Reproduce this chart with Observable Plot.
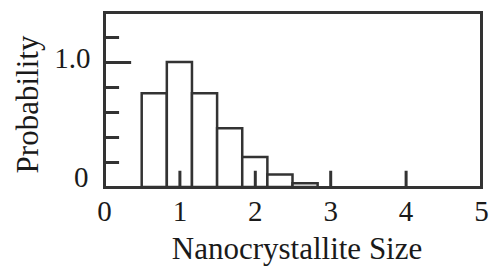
<!DOCTYPE html>
<html>
<head>
<meta charset="utf-8">
<script src="https://cdn.jsdelivr.net/npm/d3@7"></script>
<script src="https://cdn.jsdelivr.net/npm/@observablehq/plot@0.6"></script>
<style>
  html, body { margin: 0; padding: 0; background: #fff; }
  svg { display: block; }
</style>
</head>
<body>
<div id="chart"></div>
<script>
// Histogram bins (nanocrystallite size) and probabilities
const binStart = [0.5, 0.8333, 1.1667, 1.5, 1.8333, 2.1667, 2.5];
const binEnd   = [0.8333, 1.1667, 1.5, 1.8333, 2.1667, 2.5, 2.8333];
const prob     = [0.75, 1.0, 0.75, 0.47, 0.24, 0.10, 0.03];

const xTicks = [0, 1, 2, 3, 4, 5];
const xInnerTicks = [1, 2, 3, 4];
const yMinorTicks = [0.2, 0.4, 0.6, 0.8, 1.2];
const yMajorTicks = [1.0];
const xLabel = "Nanocrystallite Size";
const yLabel = "Probability";

const bins = binStart.map((s, i) => ({x1: s, x2: binEnd[i], y: prob[i]}));

const ink = "#333";
const font = "'Liberation Serif', 'Times New Roman', serif";

const chart = Plot.plot({
  width: 489,
  height: 268,
  marginLeft: 104,
  marginRight: 8,
  marginTop: 12,
  marginBottom: 81,
  style: {fontFamily: font, fontSize: "29px", color: "#1a1a1a", background: "#fff"},
  x: {domain: [0, 5]},
  y: {domain: [0, 1.4]},
  marks: [
    Plot.rect(bins, {x1: "x1", x2: "x2", y1: 0, y2: "y", fill: "#fff", stroke: ink, strokeWidth: 2.5}),
    Plot.ruleX(xInnerTicks, {x: d => d, y1: 0, y2: 0.13, stroke: ink, strokeWidth: 3}),
    Plot.ruleY(yMinorTicks, {y: d => d, x1: 0, x2: 0.2, stroke: ink, strokeWidth: 3}),
    Plot.ruleY(yMajorTicks, {y: d => d, x1: 0, x2: 0.36, stroke: ink, strokeWidth: 3}),
    Plot.frame({stroke: ink, strokeWidth: 3}),
    Plot.axisX({ticks: xTicks, tickSize: 0, tickPadding: 13, tickFormat: d => String(d), label: null, fontSize: 29}),
    Plot.axisY({ticks: [1], tickSize: 0, tickPadding: 14, tickFormat: () => "1.0", dy: -4, label: null, fontSize: 29}),
    Plot.axisY({ticks: [0], tickSize: 0, tickPadding: 16, tickFormat: () => "0", dy: -10, label: null, fontSize: 29}),
    Plot.text([xLabel], {text: d => d, frameAnchor: "bottom", lineAnchor: "bottom", textAnchor: "middle", dy: 71, dx: 4, fontSize: 31, fill: "#1a1a1a"}),
    Plot.text([yLabel], {text: d => d, frameAnchor: "left", lineAnchor: "bottom", textAnchor: "middle", rotate: -90, dx: -67, dy: 4.5, fontSize: 31, fill: "#1a1a1a"})
  ]
});
document.getElementById("chart").appendChild(chart);
</script>
</body>
</html>
